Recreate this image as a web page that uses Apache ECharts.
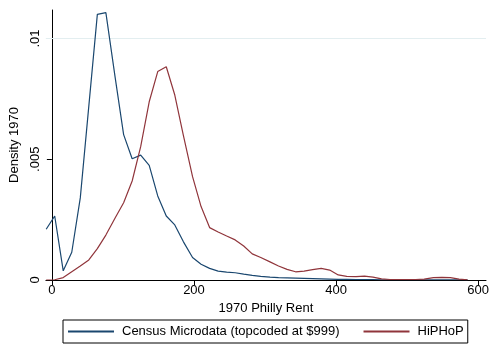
<!DOCTYPE html>
<html>
<head>
<meta charset="utf-8">
<script src="https://cdn.jsdelivr.net/npm/echarts@6/dist/echarts.min.js"></script>
<style>
html,body{margin:0;padding:0;background:#fff;}
#chart{width:495px;height:348px;}
</style>
</head>
<body>
<div id="chart"></div>
<script>
// Evaluation points of the density estimates (1970 rent, dollars)
var rentPoints = [-8, 4, 16, 28, 40, 52, 64, 76, 89, 101, 113, 125, 137, 149, 161, 173, 185, 198, 210, 222,
  234, 246, 258, 270, 282, 294, 307, 319, 331, 343, 355, 367, 379, 391, 403, 415, 428, 440, 452, 464,
  476, 488, 500, 512, 524, 537, 549, 561, 573, 585];
// Census Microdata (topcoded at $999)
var censusDensity = [0.0021, 0.00265, 0.00038, 0.00115, 0.0034, 0.0072, 0.0110, 0.01107, 0.0084, 0.00602,
  0.00502, 0.00517, 0.00475, 0.00348, 0.00265, 0.00228, 0.00159, 0.00093, 0.00065, 0.00048,
  0.00037, 0.00033, 0.0003, 0.00024, 0.00019, 0.00015, 0.00012, 0.0001, 0.00009, 0.00008,
  0.00007, 0.00006, 0.00005, 0.00004, 0.00003, 0.00003, 0.00002, 0.00002, 0.00002, 0.00001,
  0.00001, 0.00001, 0.00001, 0.00001, 0.00001, 0.00001, 0.00001, 0.00001, 0.00001, 0.00001];
// HiPHoP
var hiphopDensity = [0, 0.00001, 0.0001, 0.00034, 0.00058, 0.00083, 0.0013, 0.00186, 0.00257, 0.0032,
  0.0041, 0.00552, 0.00738, 0.00863, 0.00883, 0.00766, 0.006, 0.00428, 0.00304, 0.00217,
  0.00199, 0.00182, 0.00166, 0.00141, 0.00108, 0.00093, 0.00075, 0.00058, 0.00044, 0.00034,
  0.00037, 0.00043, 0.00048, 0.00041, 0.00021, 0.00015, 0.00014, 0.00016, 0.00012, 0.00005,
  0.00002, 0.00002, 0.00002, 0.00002, 0.00004, 0.0001, 0.00011, 0.0001, 0.00004, 0.00001];
var xTicks = [0, 200, 400, 600];
var yTicks = [0, 0.005, 0.01];
var yGridValues = [0.005, 0.01];
var seriesNames = ['Census Microdata (topcoded at $999)', 'HiPHoP'];

function pairs(xs, ys) { return xs.map(function (x, i) { return [x, ys[i]]; }); }
function yFmt(v) {
  if (Math.abs(v) < 1e-12) return '0';
  return String(+v.toFixed(4)).replace(/^0\./, '.');
}

var FONT = 'Liberation Sans, Arial, sans-serif';
var chart = echarts.init(document.getElementById('chart'), null, {renderer: 'canvas'});
chart.setOption({
  animation: false,
  backgroundColor: '#ffffff',
  grid: {left: 45, right: 9, top: 10, bottom: 68, containLabel: false},
  xAxis: {
    type: 'value', min: -8.4, max: 611,
    name: '1970 Philly Rent', nameLocation: 'middle', nameGap: 20,
    nameTextStyle: {fontFamily: FONT, fontSize: 13, color: '#000'},
    axisLine: {show: true, onZero: false, lineStyle: {color: '#000', width: 1}},
    axisTick: {show: true, length: 5, customValues: xTicks, lineStyle: {color: '#000'}},
    axisLabel: {customValues: xTicks, margin: 4, fontFamily: FONT, fontSize: 13, color: '#000'},
    splitLine: {show: false}
  },
  yAxis: {
    type: 'value', min: 0, max: 0.01118,
    name: 'Density 1970', nameLocation: 'middle', nameGap: 19,
    nameTextStyle: {fontFamily: FONT, fontSize: 13, color: '#000'},
    axisLine: {show: true, lineStyle: {color: '#000', width: 1}},
    axisTick: {show: true, length: 5, customValues: yTicks, lineStyle: {color: '#000'}},
    axisLabel: {customValues: yTicks, rotate: 90, margin: 4, fontFamily: FONT, fontSize: 13, color: '#000', formatter: yFmt},
    splitLine: {show: false}
  },
  legend: {
    left: 63, top: 320,
    data: seriesNames,
    orient: 'horizontal',
    itemWidth: 46, itemHeight: 12, itemGap: 23,
    padding: [5, 4, 5, 4],
    borderColor: '#000', borderWidth: 1,
    itemStyle: {opacity: 0},
    textStyle: {fontFamily: FONT, fontSize: 13, color: '#000', padding: [0, 0, 0, 3]}
  },
  series: [
    {
      name: seriesNames[0], type: 'line', data: pairs(rentPoints, censusDensity),
      symbol: 'none', showSymbol: false, smooth: false,
      lineStyle: {color: '#1a476f', width: 1.2}, itemStyle: {color: '#1a476f'},
      z: 3,
      markLine: {
        silent: true, symbol: ['none', 'none'], label: {show: false},
        lineStyle: {color: '#e3eef0', width: 1, type: 'solid'},
        data: yGridValues.map(function (v) { return {yAxis: v}; }),
        z: 1
      }
    },
    {
      name: seriesNames[1], type: 'line', data: pairs(rentPoints, hiphopDensity),
      symbol: 'none', showSymbol: false, smooth: false,
      lineStyle: {color: '#90353b', width: 1.2}, itemStyle: {color: '#90353b'},
      z: 3
    }
  ]
});
</script>
</body>
</html>
